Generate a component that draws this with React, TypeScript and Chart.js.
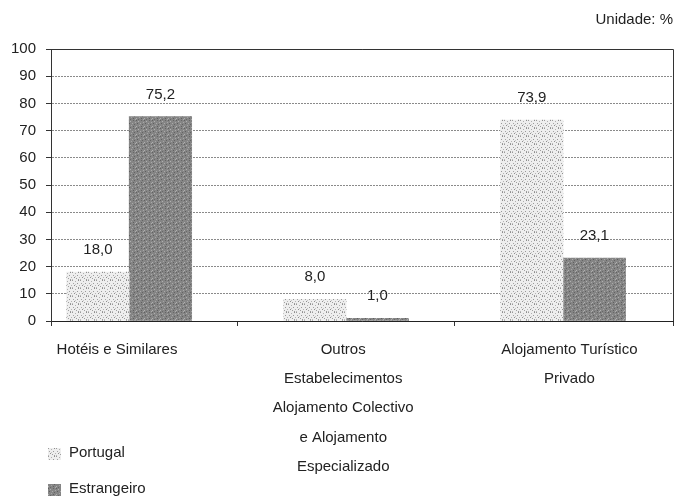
import React, { useEffect, useRef } from "react";
import { Chart, registerables } from "chart.js";

Chart.register(...registerables);

// ---- data ----
const categories: string[][] = [
  ["Hotéis e Similares"],
  ["Outros", "Estabelecimentos", "Alojamento Colectivo", "e Alojamento", "Especializado"],
  ["Alojamento Turístico", "Privado"],
];
const seriesNames = ["Portugal", "Estrangeiro"];
const portugal = [18.0, 8.0, 73.9];
const estrangeiro = [75.2, 1.0, 23.1];
const yTickValues = [0, 10, 20, 30, 40, 50, 60, 70, 80, 90, 100];
const unitLabel = "Unidade: %";

const FONT = '"Liberation Sans", Arial, sans-serif';

function makePattern(base: string, dots: [number, number, string][], size: number): CanvasPattern | string {
  const c = document.createElement("canvas");
  c.width = size;
  c.height = size;
  const g = c.getContext("2d");
  if (!g) return base;
  g.fillStyle = base;
  g.fillRect(0, 0, size, size);
  for (const [x, y, col] of dots) {
    g.fillStyle = col;
    g.fillRect(x, y, 1, 1);
  }
  const ctx = document.createElement("canvas").getContext("2d");
  return (ctx && ctx.createPattern(c, "repeat")) || base;
}

const lightDots: [number, number, string][] = [
  [0, 0, "#9a9a9a"], [3, 1, "#b0b0b0"], [6, 0, "#8e8e8e"], [1, 3, "#a4a4a4"],
  [5, 3, "#999"], [2, 5, "#8f8f8f"], [7, 5, "#b5b5b5"], [4, 6, "#a0a0a0"],
  [0, 7, "#bbb"], [6, 7, "#9c9c9c"], [3, 4, "#c4c4c4"],
];
const darkDots: [number, number, string][] = [
  [0, 0, "#606060"], [2, 1, "#b0b0b0"], [5, 0, "#666"], [7, 2, "#a8a8a8"],
  [1, 3, "#5e5e5e"], [4, 3, "#aaa"], [6, 4, "#636363"], [3, 5, "#a4a4a4"],
  [0, 6, "#b0b0b0"], [5, 6, "#606060"], [2, 7, "#686868"], [7, 7, "#acacac"],
];

export default function App() {
  const canvasRef = useRef<HTMLCanvasElement | null>(null);

  useEffect(() => {
    document.body.style.margin = "0";
    const canvas = canvasRef.current;
    if (!canvas) return;

    const lightFill = makePattern("#eeeeee", lightDots, 8);
    const darkFill = makePattern("#858585", darkDots, 8);
    const fills = [lightFill, darkFill];

    const valueLabels = {
      id: "valueLabels",
      afterDatasetsDraw(chart: any) {
        const ctx = chart.ctx;
        ctx.save();
        ctx.font = `15px ${FONT}`;
        ctx.fillStyle = "#222";
        ctx.textAlign = "center";
        ctx.textBaseline = "middle";
        chart.data.datasets.forEach((ds: any, di: number) => {
          const meta = chart.getDatasetMeta(di);
          meta.data.forEach((el: any, i: number) => {
            const v = ds.data[i].y as number;
            ctx.fillText(v.toFixed(1).replace(".", ","), el.x, el.y - 22);
          });
        });
        ctx.restore();
      },
    };

    const frame = {
      id: "frame",
      beforeDatasetsDraw(chart: any) {
        const { ctx, chartArea } = chart;
        ctx.save();
        ctx.strokeStyle = "#333";
        ctx.lineWidth = 1;
        ctx.beginPath();
        ctx.moveTo(chartArea.left, chartArea.top + 0.5);
        ctx.lineTo(chartArea.right + 0.5, chartArea.top + 0.5);
        ctx.lineTo(chartArea.right + 0.5, chartArea.bottom);
        ctx.stroke();
        ctx.restore();
      },
    };

    const sideLegend = {
      id: "sideLegend",
      afterDraw(chart: any) {
        const { ctx, chartArea } = chart;
        ctx.save();
        ctx.font = `15px ${FONT}`;
        ctx.textAlign = "left";
        ctx.textBaseline = "middle";
        const x = chartArea.left - 3;
        const ys = [chart.height - 45, chart.height - 9];
        chart.data.datasets.forEach((ds: any, i: number) => {
          ctx.fillStyle = ds.backgroundColor;
          ctx.fillRect(x, ys[i] - 5, 13, 12);
          ctx.fillStyle = "#222";
          ctx.fillText(ds.label, x + 21, ys[i]);
        });
        ctx.restore();
      },
    };

    const chart = new Chart(canvas, {
      type: "bar",
      data: {
        datasets: [
          {
            label: seriesNames[0],
            data: portugal.map((y, i) => ({ x: i, y })),
            backgroundColor: fills[0] as any,
            borderWidth: 0,
          },
          {
            label: seriesNames[1],
            data: estrangeiro.map((y, i) => ({ x: i, y })),
            backgroundColor: fills[1] as any,
            borderWidth: 0,
          },
        ],
      },
      options: {
        animation: false,
        responsive: false,
        maintainAspectRatio: false,
        layout: { padding: { left: 0, right: 7, top: 0, bottom: 0 } },
        datasets: { bar: { barThickness: 62.5 } },
        plugins: {
          legend: { display: false },
          tooltip: { enabled: false },
          title: {
            display: true,
            text: unitLabel,
            align: "end",
            color: "#222",
            font: { family: FONT, size: 15, weight: "normal", lineHeight: 1.2 },
            padding: { top: 11, bottom: 20 },
          },
        },
        scales: {
          x: {
            type: "linear",
            position: "bottom",
            min: -0.3605,
            max: 2.507,
            offset: false,
            afterBuildTicks: (scale: any) => {
              scale.ticks = [scale.min, 0.5, 1.5, scale.max].map((v: number) => ({ value: v }));
            },
            afterFit: (scale: any) => {
              scale.height = 8;
            },
            ticks: { display: false, autoSkip: false },
            grid: {
              display: true,
              drawOnChartArea: false,
              drawTicks: true,
              tickLength: 5,
              tickColor: "#333",
              offset: false,
            },
            border: { display: true, color: "#222", width: 1 },
          },
          xl: {
            type: "linear",
            position: "bottom",
            weight: 1,
            min: -0.2917,
            max: 2.458,
            offset: false,
            afterBuildTicks: (scale: any) => {
              scale.ticks = categories.map((_, i) => ({ value: i }));
            },
            afterFit: (scale: any) => {
              scale.height = 169;
            },
            ticks: {
              autoSkip: false,
              maxRotation: 0,
              minRotation: 0,
              padding: 6,
              color: "#222",
              font: { family: FONT, size: 15, lineHeight: 29.25 / 15 },
              callback: (_v: any, i: number) => categories[i],
            },
            grid: { display: false, drawTicks: false, offset: false },
            border: { display: false },
          },
          y: {
            min: 0,
            max: 100,
            afterBuildTicks: (scale: any) => {
              scale.ticks = yTickValues.map((v) => ({ value: v }));
            },
            afterFit: (scale: any) => {
              scale.width = 51;
            },
            ticks: {
              padding: 10,
              color: "#222",
              font: { family: FONT, size: 15 },
              callback: (v: any) => String(v),
            },
            grid: {
              color: "#8a8a8a",
              lineWidth: 1,
              tickLength: 5,
              tickColor: "#333",
              tickBorderDash: [],
            },
            border: { display: true, color: "#333", width: 1, dash: [2, 1] },
          },
        },
      },
      plugins: [frame, valueLabels, sideLegend],
    });

    return () => {
      chart.destroy();
    };
  }, []);

  return (
    <div style={{ width: 680, height: 498, background: "#fff" }}>
      <canvas ref={canvasRef} width={680} height={498} style={{ display: "block" }} />
    </div>
  );
}
